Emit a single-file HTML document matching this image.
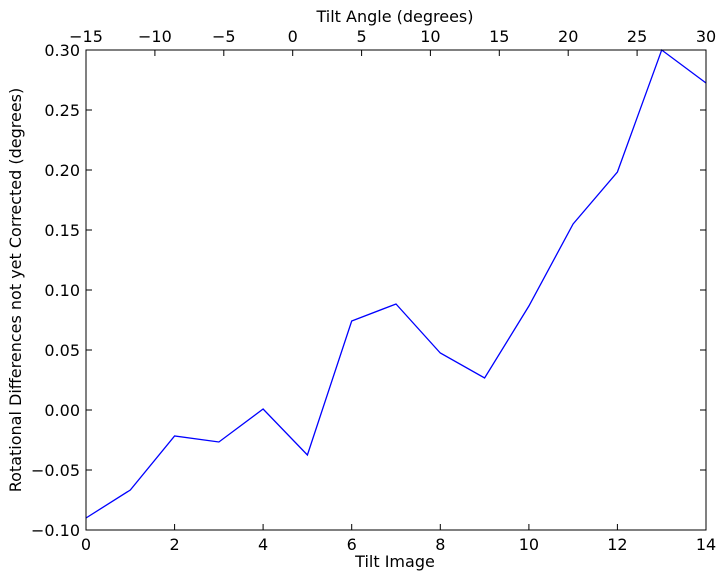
<!DOCTYPE html>
<html><head><meta charset="utf-8"><style>body{margin:0;background:#fff}svg{display:block}text{font-family:"DejaVu Sans",sans-serif;font-size:16px;fill:#000}</style></head><body>
<svg width="725" height="579" xmlns="http://www.w3.org/2000/svg">
<rect width="725" height="579" fill="#fff"/>
<polyline fill="none" stroke="#0000ff" stroke-width="1.3" points="86,518 130.3,490 174.6,436 218.9,442 263.1,409 307.4,455 351.7,321 396,304 440.3,353 484.6,378 528.9,306 573.1,224 617.4,172 661.7,50 706,83"/>
<rect x="86" y="50" width="620" height="480" fill="none" stroke="#000" stroke-width="1"/>
<g stroke="#000" stroke-width="1">
<path d="M86,530v-6M174.6,530v-6M263.1,530v-6M351.7,530v-6M440.3,530v-6M528.9,530v-6M617.4,530v-6M706,530v-6"/>
<path d="M86,50v6M154.9,50v6M223.8,50v6M292.7,50v6M361.6,50v6M430.4,50v6M499.3,50v6M568.2,50v6M637.1,50v6M706,50v6"/>
<path d="M86,50h6M86,110h6M86,170h6M86,230h6M86,290h6M86,350h6M86,410h6M86,470h6M86,530h6"/>
<path d="M706,50h-6M706,110h-6M706,170h-6M706,230h-6M706,290h-6M706,350h-6M706,410h-6M706,470h-6M706,530h-6"/>
</g>
<g text-anchor="middle">
<text x="86" y="550">0</text><text x="174.6" y="550">2</text><text x="263.1" y="550">4</text><text x="351.7" y="550">6</text><text x="440.3" y="550">8</text><text x="528.9" y="550">10</text><text x="617.4" y="550">12</text><text x="706" y="550">14</text>
<text x="395" y="567">Tilt Image</text>
<text x="86" y="42">−15</text><text x="154.9" y="42">−10</text><text x="223.8" y="42">−5</text><text x="292.7" y="42">0</text><text x="361.6" y="42">5</text><text x="430.4" y="42">10</text><text x="499.3" y="42">15</text><text x="568.2" y="42">20</text><text x="637.1" y="42">25</text><text x="706" y="42">30</text>
<text x="395" y="22">Tilt Angle (degrees)</text>
</g>
<g text-anchor="end">
<text x="80" y="56">0.30</text><text x="80" y="116">0.25</text><text x="80" y="176">0.20</text><text x="80" y="236">0.15</text><text x="80" y="296">0.10</text><text x="80" y="356">0.05</text><text x="80" y="416">0.00</text><text x="80" y="476">−0.05</text><text x="80" y="536">−0.10</text>
</g>
<text transform="translate(21,290) rotate(-90)" text-anchor="middle">Rotational Differences not yet Corrected (degrees)</text>
</svg>
</body></html>
